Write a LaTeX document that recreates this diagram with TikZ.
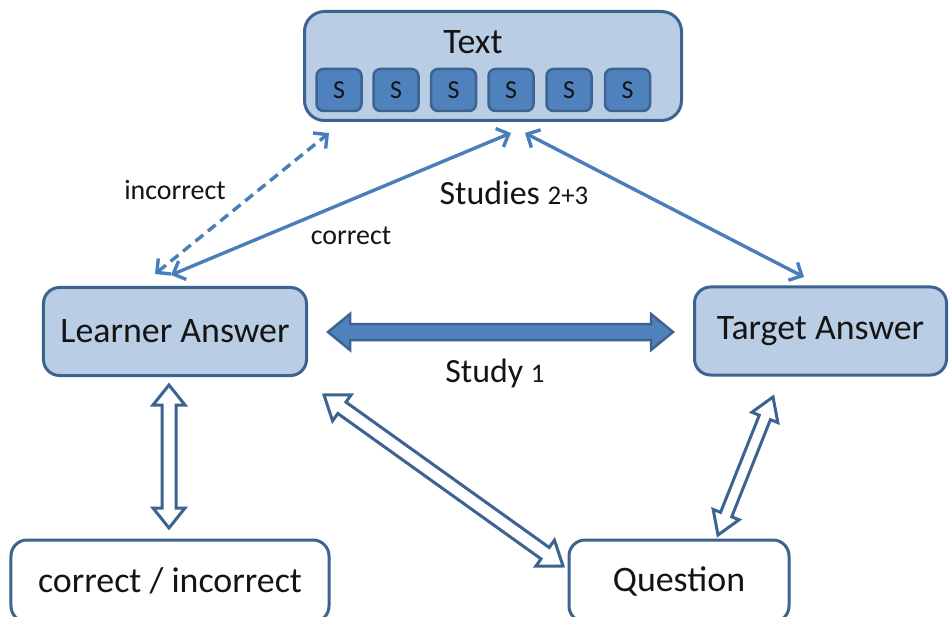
\documentclass[tikz,border=0pt]{standalone}
\usepackage{fontspec}
\setmainfont{Carlito}
\usetikzlibrary{arrows.meta,calc}
\definecolor{boxfill}{HTML}{B9CDE5}
\definecolor{boxline}{HTML}{3D6391}
\definecolor{sfill}{HTML}{4F81BD}
\definecolor{arrowblue}{HTML}{4A7EBB}
\definecolor{txt}{HTML}{141414}

% #1 id, #2 from, #3 to, #4 head length, #5 shaft half width, #6 head half width, #7 style
\newcommand{\blockarrow}[7]{%
  \coordinate (#1p) at ($(#2)!#4!(#3)$);
  \coordinate (#1q) at ($(#3)!#4!(#2)$);
  \draw[#7] (#2) -- ($(#1p)!#6!90:(#3)$) -- ($(#1p)!#5!90:(#3)$)
    -- ($(#1q)!#5!-90:(#2)$) -- ($(#1q)!#6!-90:(#2)$) -- (#3)
    -- ($(#1q)!#6!90:(#2)$) -- ($(#1q)!#5!90:(#2)$)
    -- ($(#1p)!#5!-90:(#3)$) -- ($(#1p)!#6!-90:(#3)$) -- cycle;
}

\tikzset{
  bluebox/.style={draw=boxline, fill=boxfill, line width=3bp, rounded corners=16bp, inner sep=0pt, text=txt},
  whitebox/.style={draw=boxline, fill=white, line width=3bp, rounded corners=16bp, inner sep=0pt, text=txt},
  sbox/.style={draw=boxline, fill=sfill, line width=2.5bp, rounded corners=7bp, inner sep=0pt,
    minimum width=45bp, minimum height=42bp, text=txt, font=\fontsize{26}{28}\selectfont},
  bigfont/.style={font=\fontsize{36}{40}\selectfont},
  lbl/.style={text=txt, inner sep=0pt},
  thinarrow/.style={draw=arrowblue, line width=3.4bp,
    {Straight Barb[length=10bp,width=20bp]}-{Straight Barb[length=10bp,width=20bp]}},
  hollow/.style={draw=boxline, fill=white, line width=3bp, line join=miter},
  solidblock/.style={draw=boxline, fill=sfill, line width=2.5bp, line join=miter},
}

\begin{document}
\begin{tikzpicture}[x=1bp, y=-1bp]
\useasboundingbox (0,0) rectangle (949,617);
\fill[white] (0,0) rectangle (949,617);

% Text box
\node[bluebox, rounded corners=20bp, minimum width=377bp, minimum height=109bp] (textbox) at (493,66) {};
\node[lbl, bigfont] (textlbl) at (473,42) {Text};
\foreach \i/\x in {1/339,2/396,3/453.5,4/511,5/569,6/627.5}
  \node[sbox] (s\i) at (\x,90) {S};

% Main boxes
\node[bluebox, bigfont, minimum width=263bp, minimum height=88bp] (learner) at (175,331.5) {Learner Answer};
\node[bluebox, bigfont, minimum width=252bp, minimum height=88bp] (target) at (820.5,331) {Target Answer};
\node[whitebox, bigfont, minimum width=318bp, minimum height=82bp] (corr) at (170,581) {correct / incorrect};
\node[whitebox, bigfont, minimum width=220bp, minimum height=82bp] (question) at (679,581) {Question};

% Thin arrows
\coordinate (incA) at (155,274);
\coordinate (incB) at (329,133);
\coordinate (corA) at (171,275);
\coordinate (corB) at (511,133);
\coordinate (tgtA) at (525,133);
\coordinate (tgtB) at (804,277);
\draw[thinarrow, dash pattern=on 10bp off 6bp] (incA) -- (incB);
\draw[thinarrow] (corA) -- (corB);
\draw[thinarrow] (tgtA) -- (tgtB);

\node[lbl, font=\fontsize{28}{30}\selectfont] (incl) at (175,190) {incorrect};
\node[lbl, font=\fontsize{28}{30}\selectfont] (corl) at (351,236) {correct};
\node[lbl] (stud23) at (514,193) {\fontsize{34}{40}\selectfont Studies {\fontsize{27}{30}\selectfont 2+3}};

% Block arrows
\coordinate (s1A) at (328,332);
\coordinate (s1B) at (673,332);
\blockarrow{st}{s1A}{s1B}{22bp}{8bp}{18bp}{solidblock}
\node[lbl] (stud1) at (495,373) {\fontsize{34}{40}\selectfont Study {\fontsize{27}{30}\selectfont 1}};

\coordinate (vA) at (169,385);
\coordinate (vB) at (169,528);
\blockarrow{va}{vA}{vB}{20bp}{7bp}{16bp}{hollow}

\coordinate (dA) at (324,395);
\coordinate (dB) at (563,566);
\blockarrow{da}{dA}{dB}{22bp}{7bp}{16bp}{hollow}

\coordinate (rA) at (773,397);
\coordinate (rB) at (718,535);
\blockarrow{ra}{rA}{rB}{22bp}{6bp}{14bp}{hollow}
\end{tikzpicture}
\end{document}
